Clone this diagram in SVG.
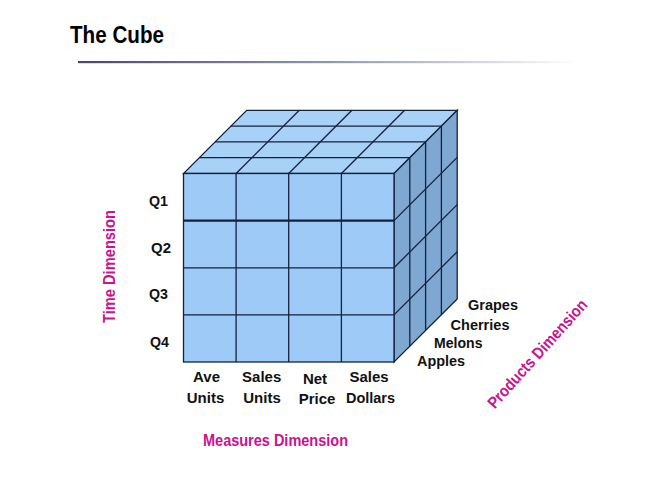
<svg xmlns="http://www.w3.org/2000/svg" width="666" height="486" viewBox="0 0 666 486">
  <defs>
    <linearGradient id="rule" x1="0" y1="0" x2="1" y2="0">
      <stop offset="0" stop-color="#4e4570"/>
      <stop offset="0.5" stop-color="#8f97ab"/>
      <stop offset="1" stop-color="#ffffff"/>
    </linearGradient>
  </defs>
  <style>
    .grid { stroke: #14213d; stroke-width: 1.3; fill: none; }
    .front { fill: #9dcaf6; stroke: #14213d; stroke-width: 1.3; }
    .top { fill: #a8d1f8; stroke: #14213d; stroke-width: 1.3; }
    .side { fill: #7ea7d1; stroke: #14213d; stroke-width: 1.3; }
    .lbl { font-family: "Liberation Sans", Arial, sans-serif; font-weight: bold; font-size: 15px; fill: #111111; }
    .dim { font-family: "Liberation Sans", Arial, sans-serif; font-weight: bold; font-size: 16.5px; fill: #c9128f; }
  </style>
  <rect width="666" height="486" fill="#ffffff"/>

  <g id="title">
    <text x="70" y="43" font-family="Liberation Sans, Arial, sans-serif" font-weight="bold" font-size="24" fill="#000000" textLength="94" lengthAdjust="spacingAndGlyphs">The Cube</text>
    <rect x="78" y="61" width="500" height="2.2" fill="url(#rule)"/>
  </g>

  <g id="cube">
    <polygon class="top" points="183.5,173.5 394,173.5 457.2,110.3 246.7,110.3"/>
    <polygon class="side" points="394,173.5 457.2,110.3 457.2,299 394,362"/>
    <rect class="front" x="183.5" y="173.5" width="210.5" height="188.5"/>
    <g class="grid">
      <line x1="236.1" y1="173.5" x2="236.1" y2="362"/>
      <line x1="288.7" y1="173.5" x2="288.7" y2="362"/>
      <line x1="341.4" y1="173.5" x2="341.4" y2="362"/>
      <line x1="183.5" y1="220.6" x2="394" y2="220.6" stroke-width="2.2"/>
      <line x1="183.5" y1="267.8" x2="394" y2="267.8"/>
      <line x1="183.5" y1="314.9" x2="394" y2="314.9"/>
      <line x1="199.3" y1="157.7" x2="409.8" y2="157.7"/>
      <line x1="215.1" y1="141.9" x2="425.6" y2="141.9"/>
      <line x1="230.9" y1="126.1" x2="441.4" y2="126.1"/>
      <line x1="236.1" y1="173.5" x2="299.3" y2="110.3"/>
      <line x1="288.7" y1="173.5" x2="351.9" y2="110.3"/>
      <line x1="341.4" y1="173.5" x2="404.6" y2="110.3"/>
      <line x1="409.8" y1="157.7" x2="409.8" y2="346.2"/>
      <line x1="425.6" y1="141.9" x2="425.6" y2="330.4"/>
      <line x1="441.4" y1="126.1" x2="441.4" y2="314.6"/>
      <line x1="394" y1="220.6" x2="457.2" y2="157.4"/>
      <line x1="394" y1="267.8" x2="457.2" y2="204.6"/>
      <line x1="394" y1="314.9" x2="457.2" y2="251.7"/>
    </g>
  </g>

  <g id="time-labels" class="lbl">
    <text x="149" y="206" textLength="19" lengthAdjust="spacingAndGlyphs">Q1</text>
    <text x="151" y="253" textLength="20" lengthAdjust="spacingAndGlyphs">Q2</text>
    <text x="149" y="299" textLength="19" lengthAdjust="spacingAndGlyphs">Q3</text>
    <text x="150" y="347" textLength="19" lengthAdjust="spacingAndGlyphs">Q4</text>
  </g>

  <g id="measure-labels" class="lbl" text-anchor="middle">
    <text x="206.5" y="382">Ave</text>
    <text x="205.5" y="402.5">Units</text>
    <text x="261.7" y="382">Sales</text>
    <text x="262" y="402.5">Units</text>
    <text x="315" y="383.5">Net</text>
    <text x="317" y="404">Price</text>
    <text x="369" y="382">Sales</text>
    <text x="370.5" y="402.5" textLength="49" lengthAdjust="spacingAndGlyphs">Dollars</text>
  </g>

  <g id="product-labels" class="lbl">
    <text x="468" y="309.5" textLength="50" lengthAdjust="spacingAndGlyphs">Grapes</text>
    <text x="450.5" y="329.5" textLength="59" lengthAdjust="spacingAndGlyphs">Cherries</text>
    <text x="434" y="347.5" textLength="48.5" lengthAdjust="spacingAndGlyphs">Melons</text>
    <text x="417" y="366" textLength="48" lengthAdjust="spacingAndGlyphs">Apples</text>
  </g>

  <g id="dimension-labels" class="dim">
    <text transform="translate(114.5,266.5) rotate(-90)" text-anchor="middle" textLength="113" lengthAdjust="spacingAndGlyphs">Time Dimension</text>
    <text x="275.5" y="446" text-anchor="middle" textLength="145" lengthAdjust="spacingAndGlyphs">Measures Dimension</text>
    <text transform="translate(541.5,357.5) rotate(-48)" text-anchor="middle" textLength="140" lengthAdjust="spacingAndGlyphs">Products Dimension</text>
  </g>
</svg>
